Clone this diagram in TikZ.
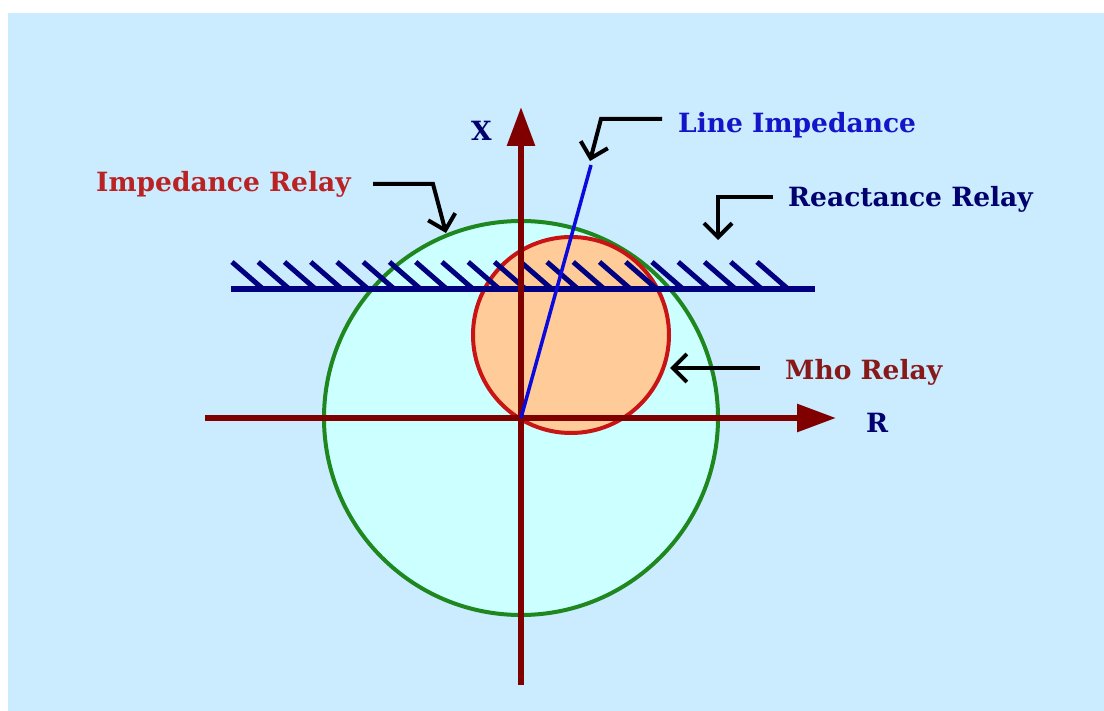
\documentclass[tikz,border=0pt]{standalone}
\usepackage{fontspec}
\setmainfont{DejaVu Serif}
\usetikzlibrary{arrows.meta}
\definecolor{bgblue}{RGB}{203,235,255}
\definecolor{cyanfill}{RGB}{204,255,255}
\definecolor{peach}{RGB}{255,204,153}
\definecolor{relgreen}{RGB}{30,135,30}
\definecolor{relred}{RGB}{200,20,20}
\definecolor{axismaroon}{RGB}{128,0,0}
\definecolor{navyc}{RGB}{0,0,128}
\definecolor{lineblue}{RGB}{10,10,220}
\definecolor{txtred}{RGB}{185,35,35}
\definecolor{txtblue}{RGB}{20,20,200}
\definecolor{txtmaroon}{RGB}{135,25,25}
\definecolor{txtnavy}{RGB}{0,0,110}
\begin{document}
\begin{tikzpicture}[x=1pt,y=-1pt,
  lbl/.style={font=\bfseries\fontsize{26.5}{30}\selectfont, inner sep=0pt, anchor=base west},
  axisline/.style={draw=axismaroon, line width=6pt, -{Triangle[length=39pt,width=27pt]}},
  hatchline/.style={draw=navyc, line width=5pt},
  reactline/.style={draw=navyc, line width=6pt},
  pointer/.style={draw=black, line width=4pt, -{Straight Barb[length=14pt,width=28pt]}}
]
\useasboundingbox (0,0) rectangle (1104,711);
\fill[white] (0,0) rectangle (1104,711);
\fill[bgblue] (8,13) rectangle (1104,711);

% circles
\node[circle, draw=relgreen, fill=cyanfill, line width=4pt, minimum size=394pt, inner sep=0pt] (impc) at (521,418) {};
\node[circle, draw=relred, fill=peach, line width=4pt, minimum size=196pt, inner sep=0pt] (mhoc) at (571,335) {};

% reactance relay line with hatching
\foreach \i in {0,...,20} {
  \draw[hatchline] ({232+26.25*\i},262) -- ++(31,27);
}
\coordinate (rl) at (231,289);
\coordinate (rr) at (815,289);
\draw[reactline] (rl) -- (rr);

% axes
\coordinate (O) at (521,418);
\coordinate (xbot) at (521,685);
\coordinate (xtop) at (521,107);
\coordinate (rleft) at (205,418);
\coordinate (rright) at (836,418);
\draw[axisline] (xbot) -- (xtop);
\draw[axisline] (rleft) -- (rright);

% line impedance
\coordinate (limp) at (591,165);
\draw[draw=lineblue, line width=3.5pt] (O) -- (limp);

% labels
\node[lbl, text=txtnavy] (lx) at (471,141) {X};
\node[lbl, text=txtnavy] (lr) at (866,433) {R};
\node[lbl, text=txtred] (limpr) at (96,192) {Impedance Relay};
\node[lbl, text=txtblue] (llimp) at (678,133) {Line Impedance};
\node[lbl, text=txtnavy] (lreact) at (788,207) {Reactance Relay};
\node[lbl, text=txtmaroon] (lmho) at (785,380) {Mho Relay};

% pointers
\coordinate (p1s) at (373,184);
\coordinate (p1c) at (433,184);
\coordinate (p1e) at (446,233);
\draw[pointer] (p1s) -- (p1c) -- (p1e);
\coordinate (p2s) at (662,119);
\coordinate (p2c) at (601,119);
\coordinate (p2e) at (590,161);
\draw[pointer] (p2s) -- (p2c) -- (p2e);
\coordinate (p3s) at (773,197);
\coordinate (p3c) at (718,197);
\coordinate (p3e) at (718,240);
\draw[pointer] (p3s) -- (p3c) -- (p3e);
\coordinate (p4s) at (760,368);
\coordinate (p4e) at (670,368);
\draw[pointer] (p4s) -- (p4e);
\end{tikzpicture}
\end{document}
